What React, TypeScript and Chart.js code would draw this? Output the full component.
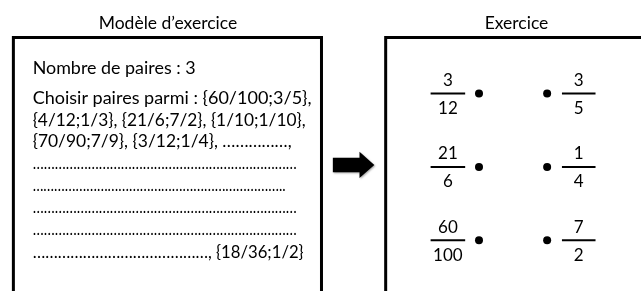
import React, { useEffect, useRef } from "react";
import { Chart, registerables } from "chart.js";

Chart.register(...registerables);

// ---- content ----
const leftTitle = "Modèle d\u2019exercice";
const rightTitle = "Exercice";
const pairCount = 3;
const modelLines = [
  `Nombre de paires : ${pairCount}`,
  "Choisir paires parmi : {60/100;3/5},",
  "{4/12;1/3}, {21/6;7/2}, {1/10;1/10},",
  "{70/90;7/9}, {3/12;1/4}, ……………,",
  "………………………………………………………………",
  "……………………………………………………………..",
  "………………………………………………………………",
  "………………………………………………………………",
  "……………………………………, {18/36;1/2}",
];
const leftNumerators = ["3", "21", "60"];
const leftDenominators = ["12", "6", "100"];
const rightNumerators = ["3", "1", "7"];
const rightDenominators = ["5", "4", "2"];

// ---- layout (scale units) ----
const W = 641;
const H = 291;
const ROW_Y = [92, 167.5, 243];
const LEFT_DOT_X = 481;
const RIGHT_DOT_X = 550;
const LEFT_FRAC_X = [432, 467];
const RIGHT_FRAC_X = [565, 599];
const TEXT_X = 29;
const LINE_BASELINES = [72, 102.5, 125, 147.5, 169.5, 192, 214.5, 237.5, 261];
const LINE_WIDTHS = [163, 279, 273, 259, 264, 253, 264, 264, 271];
const FONT = "Lato, 'Open Sans', sans-serif";

const diagramPlugin = {
  id: "diagram",
  beforeDatasetsDraw(chart: any) {
    const ctx = chart.ctx as CanvasRenderingContext2D;
    const xs = chart.scales.x;
    const ys = chart.scales.y;
    const px = (v: number) => xs.getPixelForValue(v);
    const py = (v: number) => ys.getPixelForValue(v);

    ctx.save();
    ctx.fillStyle = "#ffffff";
    ctx.fillRect(0, 0, chart.width, chart.height);

    // titles
    ctx.fillStyle = "#000";
    ctx.font = `17.5px ${FONT}`;
    ctx.textAlign = "center";
    ctx.textBaseline = "alphabetic";
    ctx.fillText(leftTitle, px(166), py(26));
    ctx.fillText(rightTitle, px(519), py(26));

    // boxes
    ctx.strokeStyle = "#000";
    ctx.lineWidth = 3;
    ctx.beginPath();
    ctx.moveTo(px(9.5), py(300));
    ctx.lineTo(px(9.5), py(34.5));
    ctx.lineTo(px(321.5), py(34.5));
    ctx.lineTo(px(321.5), py(300));
    ctx.stroke();
    ctx.beginPath();
    ctx.moveTo(px(386.5), py(300));
    ctx.lineTo(px(386.5), py(34.5));
    ctx.lineTo(px(650), py(34.5));
    ctx.stroke();

    // arrow
    ctx.save();
    ctx.shadowColor = "rgba(0,0,0,0.35)";
    ctx.shadowBlur = 2;
    ctx.shadowOffsetX = 1;
    ctx.shadowOffsetY = 1;
    ctx.fillStyle = "#000";
    ctx.beginPath();
    ctx.moveTo(px(333), py(158));
    ctx.lineTo(px(360), py(158));
    ctx.lineTo(px(360), py(152));
    ctx.lineTo(px(375), py(165.5));
    ctx.lineTo(px(360), py(179));
    ctx.lineTo(px(360), py(173));
    ctx.lineTo(px(333), py(173));
    ctx.closePath();
    ctx.fill();
    ctx.restore();

    // model text, each line fitted to its measured width
    ctx.fillStyle = "#000";
    ctx.textAlign = "left";
    ctx.font = `17.5px ${FONT}`;
    modelLines.forEach((line, i) => {
      const w = ctx.measureText(line).width;
      const target = LINE_WIDTHS[i];
      const sx = w > 0 ? target / w : 1;
      ctx.save();
      ctx.translate(px(TEXT_X), py(LINE_BASELINES[i]));
      ctx.scale(sx, 1);
      ctx.fillText(line, 0, 0);
      ctx.restore();
    });

    // fractions
    ctx.textAlign = "center";
    ctx.font = `17px ${FONT}`;
    ctx.lineWidth = 2;
    const drawFrac = (num: string, den: string, x0: number, x1: number, y: number) => {
      ctx.beginPath();
      ctx.moveTo(px(x0), py(y));
      ctx.lineTo(px(x1), py(y));
      ctx.stroke();
      const cx = px((x0 + x1) / 2);
      ctx.fillText(num, cx, py(y - 8));
      ctx.fillText(den, cx, py(y + 21));
    };
    ROW_Y.forEach((y, i) => {
      drawFrac(leftNumerators[i], leftDenominators[i], LEFT_FRAC_X[0], LEFT_FRAC_X[1], y);
      drawFrac(rightNumerators[i], rightDenominators[i], RIGHT_FRAC_X[0], RIGHT_FRAC_X[1], y);
    });
    ctx.restore();
  },
};

export default function App() {
  const ref = useRef<HTMLCanvasElement | null>(null);
  useEffect(() => {
    if (!ref.current) return;
    const chart = new Chart(ref.current, {
      type: "scatter",
      data: {
        datasets: [
          {
            label: "gauche",
            data: leftNumerators.map((_, i) => ({ x: LEFT_DOT_X, y: ROW_Y[i] })),
            backgroundColor: "#000",
            borderWidth: 0,
            pointRadius: 4,
          },
          {
            label: "droite",
            data: rightNumerators.map((_, i) => ({ x: RIGHT_DOT_X, y: ROW_Y[i] })),
            backgroundColor: "#000",
            borderWidth: 0,
            pointRadius: 4,
          },
        ],
      },
      options: {
        animation: false,
        responsive: false,
        devicePixelRatio: 1,
        layout: { padding: 0 },
        plugins: { legend: { display: false }, tooltip: { enabled: false } },
        events: [],
        scales: {
          x: { type: "linear", min: 0, max: W, display: false },
          y: { type: "linear", min: 0, max: H, reverse: true, display: false },
        },
      },
      plugins: [diagramPlugin],
    });
    return () => chart.destroy();
  }, []);
  return (
    <div style={{ position: "absolute", left: 0, top: 0, width: W, height: H, background: "#fff" }}>
      <canvas ref={ref} width={W} height={H} style={{ width: W, height: H, display: "block" }} />
    </div>
  );
}
